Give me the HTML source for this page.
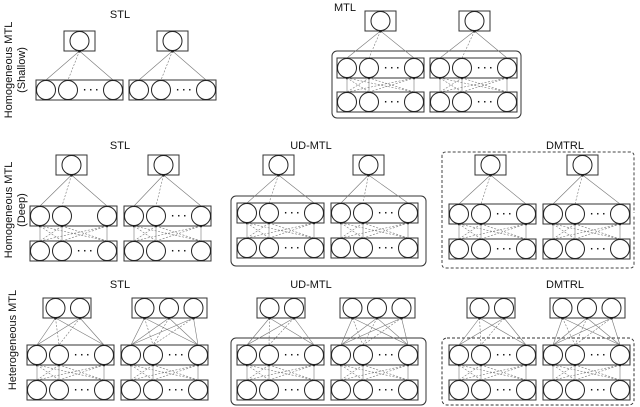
<!DOCTYPE html>
<html><head><meta charset="utf-8"><style>
html,body{margin:0;padding:0;background:#fff;width:640px;height:407px;overflow:hidden}
svg{display:block}
text{font-family:"Liberation Sans",sans-serif;fill:#111}
</style></head><body>
<svg id="s" width="640" height="407" viewBox="0 0 640 407" xmlns="http://www.w3.org/2000/svg">
<text x="120" y="18" font-size="11" text-anchor="middle">STL</text>
<text x="345" y="11" font-size="11" text-anchor="middle">MTL</text>
<text x="120" y="149" font-size="11" text-anchor="middle">STL</text>
<text x="311" y="149" font-size="11" text-anchor="middle">UD-MTL</text>
<text x="565" y="149" font-size="11" text-anchor="middle">DMTRL</text>
<text x="120" y="288" font-size="11" text-anchor="middle">STL</text>
<text x="311" y="288" font-size="11" text-anchor="middle">UD-MTL</text>
<text x="565" y="288" font-size="11" text-anchor="middle">DMTRL</text>
<text transform="translate(12,70) rotate(-90)" font-size="11" text-anchor="middle">Homogeneous MTL</text>
<text transform="translate(25,70) rotate(-90)" font-size="11" text-anchor="middle">(Shallow)</text>
<text transform="translate(12,210) rotate(-90)" font-size="11" text-anchor="middle">Homogeneous MTL</text>
<text transform="translate(25,210) rotate(-90)" font-size="11" text-anchor="middle">(Deep)</text>
<text transform="translate(16,340) rotate(-90)" font-size="11" text-anchor="middle">Heterogeneous MTL</text>
<g id="g"></g>
</svg>
<script>
var g=document.getElementById('g'),h='';
function R(x,y,w,ht,ex){h+='<rect x="'+x+'" y="'+y+'" width="'+w+'" height="'+ht+'" fill="none" stroke="#333" stroke-width="1" '+(ex||'')+'/>';}
function C(x,y){h+='<circle cx="'+x+'" cy="'+y+'" r="9.5" fill="#fff" stroke="#222" stroke-width="1"/>';}
function L(x1,y1,x2,y2,d){h+='<line x1="'+x1+'" y1="'+y1+'" x2="'+x2+'" y2="'+y2+'" stroke="#777" stroke-width="0.6" '+(d?'stroke-dasharray="2,1.5"':'')+'/>';}
function layerPts(x){return [x+10,x+32,x+77];}
function layer(x,y,dots){R(x,y,87,20);var p=layerPts(x);p.forEach(function(c){C(c,y+10)});
 if(dots!==false)h+='<text x="'+(x+55)+'" y="'+(y+13)+'" font-size="10" text-anchor="middle" font-weight="bold">· · ·</text>';}
function topBox(x,y,n){var w=n==1?31:(n==2?48:75);R(x,y,w,20);for(var i=0;i<n;i++){var c=n==1?x+15.5:x+12.5+i*24.5;C(c,y+10);}}
function conn(cs,ty,x,ly){var p=layerPts(x);cs.forEach(function(c){p.forEach(function(q,j){L(c,ty,q,ly,j==1);});h+='<circle cx="'+c+'" cy="'+ty+'" r="1.5" fill="#111"/>';});}
function inter(x,uy,ly){var p=layerPts(x);p.forEach(function(a){p.forEach(function(b){L(a,ly,b,uy,a!=b);});h+='<circle cx="'+a+'" cy="'+uy+'" r="1.3" fill="#111"/>';});}
function column(x,uy,ly,tx,ty,n,dotsU){ if(ly!=null){inter(x,uy+20,ly);}
 var cs=[];for(var i=0;i<n;i++){cs.push(n==1?tx+15.5:tx+12.5+i*24.5);} conn(cs,ty+20,x,uy);
 if(ly!=null)layer(x,ly,true); layer(x,uy,dotsU); topBox(tx,ty,n);}
// Row1
column(36,80,null,64,31,1);column(129,80,null,157,31,1);
R(332,51,189,67,'rx="5"');
column(337,58,92,365,11,1);column(430,58,92,459,11,1);
// Row2
column(30,206,241,56,155,1,false);column(124,206,241,148,155,1);
R(231,196,195,70,'rx="5"');
column(237,203,238,263,155,1);column(331,203,238,353,155,1);
h+='<path d="M442,213 V156 Q442,152 446,152 H630 Q634,152 634,156 V213" fill="none" stroke="#444" stroke-dasharray="3,2"/>';
h+='<path d="M442,215 V264 Q442,268 446,268 H630 Q634,268 634,264 V215" fill="none" stroke="#444" stroke-dasharray="3,2"/>';
column(449,204,239,475,155,1);column(543,204,239,567,155,1);
// Row3
column(27,345,380,43,298,2);column(121,345,380,132,298,3);
R(231,338,195,67,'rx="5"');
column(237,345,380,257,298,2);column(331,345,380,340,298,3);
R(442,338,192,67,'rx="5" stroke-dasharray="3,2"');
column(449,345,380,467,298,2);column(543,345,380,550,298,3);
g.innerHTML=h;
</script>
</body></html>
